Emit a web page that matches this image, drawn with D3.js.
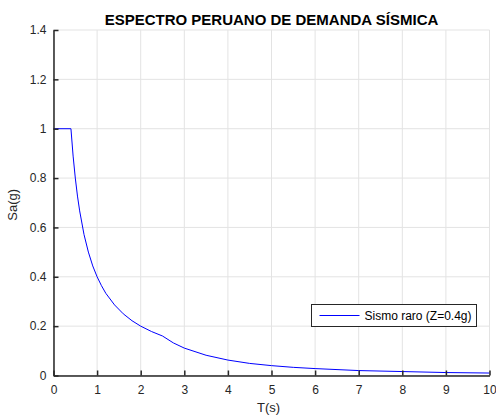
<!DOCTYPE html>
<html>
<head>
<meta charset="utf-8">
<script src="https://cdn.jsdelivr.net/npm/d3@7"></script>
<style>
	body { margin: 0; background: #ffffff; }
	svg { display: block; font-family: "Liberation Sans", Arial, sans-serif; }
</style>
</head>
<body>
<svg id="chart" width="496" height="416"></svg>
<script>
// periodos T(s) y aceleracion espectral Sa(g)
var aPeriod = [0, 0.4, 0.45, 0.5, 0.55, 0.6, 0.7, 0.8, 0.9, 1.0, 1.1, 1.2, 1.4, 1.6, 1.8, 2.0, 2.25, 2.5,
	2.75, 3.0, 3.5, 4.0, 4.5, 5.0, 5.5, 6.0, 7.0, 8.0, 9.0, 10.0];
var aSa = [1.0, 1.0, 0.889, 0.8, 0.727, 0.667, 0.571, 0.5, 0.444, 0.4, 0.364, 0.333, 0.286, 0.25, 0.222, 0.2, 0.178, 0.16,
	0.132, 0.111, 0.082, 0.0625, 0.049, 0.04, 0.033, 0.028, 0.020, 0.016, 0.012, 0.010];
var aTicksX = [0, 1, 2, 3, 4, 5, 6, 7, 8, 9, 10];
var aTicksY = [0, 0.2, 0.4, 0.6, 0.8, 1, 1.2, 1.4];
var strTitle = 'ESPECTRO PERUANO DE DEMANDA SÍSMICA';
var strLabelX = 'T(s)';
var strLabelY = 'Sa(g)';
var strSeries = 'Sismo raro (Z=0.4g)';

var sSvg = d3.select('#chart');

var nLeft = 53.5;
var nRight = 489.5;
var nTop = 30;
var nBottom = 375.5;

var scaleX = d3.scaleLinear().domain([0, 10]).range([nLeft, nRight]);
var scaleY = d3.scaleLinear().domain([0, 1.4]).range([nBottom, nTop]);

// rejilla
var sGrid = sSvg.append('g');
aTicksX.forEach(function(t)
{
	sGrid.append('line')
		.attr('x1', scaleX(t)).attr('x2', scaleX(t))
		.attr('y1', nTop).attr('y2', nBottom)
		.style('stroke', '#e3e3e3').style('stroke-width', 1);
});
aTicksY.forEach(function(v)
{
	sGrid.append('line')
		.attr('x1', nLeft).attr('x2', nRight)
		.attr('y1', scaleY(v)).attr('y2', scaleY(v))
		.style('stroke', '#e3e3e3').style('stroke-width', 1);
});

// curva
var line = d3.line()
	.x(function(d, i) { return scaleX(aPeriod[i]); })
	.y(function(d) { return scaleY(d); });

sSvg.append('path')
	.datum(aSa)
	.attr('d', line)
	.style('fill', 'none')
	.style('stroke', '#0000ff')
	.style('stroke-width', 1);

// ejes
var axisX = d3.axisBottom(scaleX).tickValues(aTicksX).tickSizeInner(-5).tickSizeOuter(0).tickPadding(10)
	.tickFormat(d3.format('d'));
var axisY = d3.axisLeft(scaleY).tickValues(aTicksY).tickSizeInner(-5).tickSizeOuter(0).tickPadding(7)
	.tickFormat(function(v) { return String(+v.toFixed(1)); });

var sAxisX = sSvg.append('g')
	.attr('transform', 'translate(0,' + nBottom + ')')
	.call(axisX);
var sAxisY = sSvg.append('g')
	.attr('transform', 'translate(' + nLeft + ',0)')
	.call(axisY);

[sAxisX, sAxisY].forEach(function(sAxis)
{
	sAxis.select('.domain').style('stroke', '#262626').style('stroke-width', 1.5);
	sAxis.selectAll('.tick line').style('stroke', '#262626').style('stroke-width', 1.5);
	sAxis.selectAll('.tick text')
		.style('font-family', '"Liberation Sans", Arial, sans-serif')
		.style('font-size', '12px')
		.style('fill', '#262626');
});

// titulos
sSvg.append('text')
	.attr('x', (nLeft + nRight) / 2)
	.attr('y', 25)
	.attr('text-anchor', 'middle')
	.style('font-size', '15px')
	.style('font-weight', 'bold')
	.style('fill', '#000000')
	.text(strTitle);

sSvg.append('text')
	.attr('x', (nLeft + nRight) / 2 - 3)
	.attr('y', 412)
	.attr('text-anchor', 'middle')
	.style('font-size', '13px')
	.style('fill', '#262626')
	.text(strLabelX);

sSvg.append('text')
	.attr('transform', 'translate(17,' + ((nTop + nBottom) / 2 + 2) + ') rotate(-90)')
	.attr('text-anchor', 'middle')
	.style('font-size', '13px')
	.style('fill', '#262626')
	.text(strLabelY);

// leyenda
var sLegend = sSvg.append('g').attr('transform', 'translate(311.5,304.5)');
sLegend.append('rect')
	.attr('width', 165).attr('height', 22)
	.style('fill', '#ffffff')
	.style('stroke', '#262626')
	.style('stroke-width', 1);
sLegend.append('line')
	.attr('x1', 8).attr('x2', 48)
	.attr('y1', 11).attr('y2', 11)
	.style('stroke', '#0000ff').style('stroke-width', 1);
sLegend.append('text')
	.attr('x', 53).attr('y', 15.5)
	.style('font-size', '12px')
	.style('fill', '#000000')
	.text(strSeries);
</script>
</body>
</html>
